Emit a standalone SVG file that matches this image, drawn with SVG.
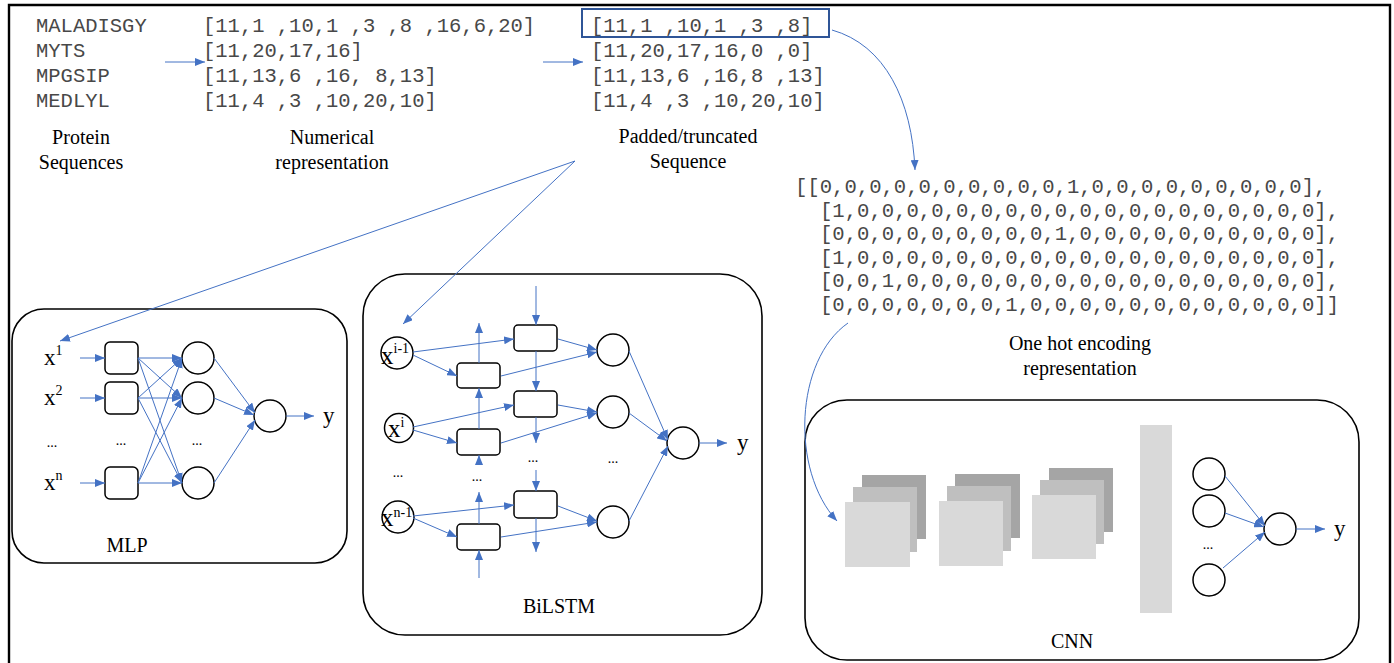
<svg xmlns="http://www.w3.org/2000/svg" width="1394" height="663" viewBox="0 0 1394 663">
  <defs>
    <marker id="ah" markerUnits="userSpaceOnUse" markerWidth="10" markerHeight="8" refX="10" refY="4" orient="auto">
      <path d="M0,0 L10,4 L0,8 z" fill="#4472C4"/>
    </marker>
    <style>
      .mono { font-family: "Liberation Mono", "Courier New", monospace; font-size: 20.5px; fill: #484848; }
      .hot { font-family: "Liberation Mono", "Courier New", monospace; font-size: 20.6px; fill: #484848; }
      .lbl { font-family: "Liberation Serif", "Times New Roman", serif; font-size: 20px; fill: #000; text-anchor: middle; }
      .var { font-family: "Liberation Serif", "Times New Roman", serif; font-size: 23px; fill: #000; }
      .big { font-size: 25px; }
      .sup { font-size: 14px; }
      .dots { font-family: "Liberation Serif", "Times New Roman", serif; font-size: 14px; fill: #000; text-anchor: middle; }
      .panel { fill: #fff; stroke: #000; stroke-width: 1.6; }
      .cell { fill: #fff; stroke: #000; stroke-width: 1.5; }
      .neuron { fill: #fff; stroke: #000; stroke-width: 1.5; }
      .link { fill: none; stroke: #4472C4; stroke-width: 1; marker-end: url(#ah); }
    </style>
  </defs>

  <rect width="1394" height="663" fill="#fff"/>

  <!-- outer frame, open at the bottom -->
  <path d="M9,663 L9,5 L1390,5 L1390,663" fill="none" stroke="#000" stroke-width="2.4"/>

  <!-- raw protein sequences -->
  <g id="protein-sequences">
    <text class="mono" x="36" y="32">MALADISGY</text>
    <text class="mono" x="36" y="57">MYTS</text>
    <text class="mono" x="36" y="82">MPGSIP</text>
    <text class="mono" x="36" y="107">MEDLYL</text>
    <text class="lbl" x="81" y="144">Protein</text>
    <text class="lbl" x="81" y="169">Sequences</text>
  </g>

  <!-- integer encoded sequences -->
  <g id="numerical-representation">
    <text class="mono" x="203" y="32">[11,1 ,10,1 ,3 ,8 ,16,6,20]</text>
    <text class="mono" x="203" y="57">[11,20,17,16]</text>
    <text class="mono" x="203" y="82">[11,13,6 ,16, 8,13]</text>
    <text class="mono" x="203" y="107">[11,4 ,3 ,10,20,10]</text>
    <text class="lbl" x="332" y="144">Numerical</text>
    <text class="lbl" x="332" y="169">representation</text>
  </g>

  <!-- fixed length sequences -->
  <g id="padded-sequence">
    <rect x="582" y="9" width="247" height="28" fill="none" stroke="#2F5597" stroke-width="2"/>
    <text class="mono" x="591" y="32">[11,1 ,10,1 ,3 ,8]</text>
    <text class="mono" x="591" y="57">[11,20,17,16,0 ,0]</text>
    <text class="mono" x="591" y="82">[11,13,6 ,16,8 ,13]</text>
    <text class="mono" x="591" y="107">[11,4 ,3 ,10,20,10]</text>
    <text class="lbl" x="688" y="143">Padded/truncated</text>
    <text class="lbl" x="688" y="168">Sequence</text>
  </g>

  <!-- one hot matrix of the first sequence -->
  <g id="one-hot-encoding">
    <text class="hot" x="795" y="193">[[0,0,0,0,0,0,0,0,0,0,1,0,0,0,0,0,0,0,0,0],</text>
    <text class="hot" x="820" y="216.6">[1,0,0,0,0,0,0,0,0,0,0,0,0,0,0,0,0,0,0,0],</text>
    <text class="hot" x="820" y="240.2">[0,0,0,0,0,0,0,0,0,1,0,0,0,0,0,0,0,0,0,0],</text>
    <text class="hot" x="820" y="263.8">[1,0,0,0,0,0,0,0,0,0,0,0,0,0,0,0,0,0,0,0],</text>
    <text class="hot" x="820" y="287.4">[0,0,1,0,0,0,0,0,0,0,0,0,0,0,0,0,0,0,0,0],</text>
    <text class="hot" x="820" y="311">[0,0,0,0,0,0,0,1,0,0,0,0,0,0,0,0,0,0,0,0]]</text>
    <text class="lbl" x="1080" y="350">One hot encoding</text>
    <text class="lbl" x="1080" y="375">representation</text>
  </g>

  <!-- MLP panel -->
  <g id="mlp">
    <rect class="panel" x="12" y="309" width="335" height="254" rx="32"/>
    <text class="var" x="44" y="365">x<tspan class="sup" dy="-10">1</tspan></text>
    <text class="var" x="44" y="405">x<tspan class="sup" dy="-10">2</tspan></text>
    <text class="dots" x="52" y="447">...</text>
    <text class="var" x="44" y="490">x<tspan class="sup" dy="-10">n</tspan></text>
    <rect class="cell" x="105" y="342" width="33" height="32" rx="5"/>
    <rect class="cell" x="105" y="382" width="33" height="32" rx="5"/>
    <text class="dots" x="121" y="445">...</text>
    <rect class="cell" x="105" y="467" width="33" height="32" rx="5"/>
    <circle class="neuron" cx="198" cy="358" r="16"/>
    <circle class="neuron" cx="198" cy="398" r="16"/>
    <text class="dots" x="197" y="445">...</text>
    <circle class="neuron" cx="198" cy="483" r="16"/>
    <circle class="neuron" cx="270" cy="416" r="16"/>
    <text class="var" x="323" y="423">y</text>
    <text class="lbl" x="127" y="552">MLP</text>
  </g>

  <!-- BiLSTM panel -->
  <g id="bilstm">
    <rect class="panel" x="363" y="274" width="399" height="361" rx="42"/>
    <circle class="neuron" cx="397" cy="353" r="16"/>
    <text class="var big" x="381" y="364">x<tspan class="sup" dy="-11">i-1</tspan></text>
    <circle class="neuron" cx="399" cy="428" r="14.5"/>
    <text class="var big" x="388" y="437">x<tspan class="sup" dy="-10">i</tspan></text>
    <text class="dots" x="398" y="477">...</text>
    <circle class="neuron" cx="398" cy="517" r="16"/>
    <text class="var big" x="381" y="526">x<tspan class="sup" dy="-9">n-1</tspan></text>

    <rect class="cell" x="457" y="363" width="43" height="25" rx="4"/>
    <rect class="cell" x="457" y="429" width="43" height="26" rx="4"/>
    <text class="dots" x="477" y="481">...</text>
    <rect class="cell" x="457" y="524" width="43" height="26" rx="4"/>

    <rect class="cell" x="514" y="325" width="43" height="26" rx="4"/>
    <rect class="cell" x="514" y="391" width="43" height="26" rx="4"/>
    <text class="dots" x="533" y="462">...</text>
    <rect class="cell" x="514" y="491" width="43" height="27" rx="4"/>

    <circle class="neuron" cx="613" cy="350" r="16"/>
    <circle class="neuron" cx="613" cy="412" r="16"/>
    <text class="dots" x="613" y="463">...</text>
    <circle class="neuron" cx="613" cy="522" r="16"/>

    <circle class="neuron" cx="683" cy="443" r="16"/>
    <text class="var" x="737" y="450">y</text>
    <text class="lbl" x="559" y="613">BiLSTM</text>
  </g>

  <!-- CNN panel -->
  <g id="cnn">
    <rect class="panel" x="805" y="400" width="554" height="260" rx="42"/>
    <rect x="862" y="475" width="64" height="64" fill="#A5A5A5"/>
    <rect x="853" y="487" width="64" height="65" fill="#BFBFBF"/>
    <rect x="845" y="502" width="65" height="65" fill="#D9D9D9"/>
    <rect x="955" y="474" width="65" height="64" fill="#A5A5A5"/>
    <rect x="947" y="486" width="64" height="65" fill="#BFBFBF"/>
    <rect x="939" y="501" width="64" height="65" fill="#D9D9D9"/>
    <rect x="1049" y="468" width="64" height="64" fill="#A5A5A5"/>
    <rect x="1040" y="480" width="64" height="64" fill="#BFBFBF"/>
    <rect x="1032" y="495" width="64" height="64" fill="#D9D9D9"/>
    <rect x="1140" y="425" width="32" height="188" fill="#D9D9D9"/>
    <circle class="neuron" cx="1209" cy="474" r="16"/>
    <circle class="neuron" cx="1209" cy="511" r="16"/>
    <text class="dots" x="1208" y="549">...</text>
    <circle class="neuron" cx="1209" cy="580" r="16"/>
    <circle class="neuron" cx="1280" cy="529" r="16"/>
    <text class="var" x="1334" y="536">y</text>
    <text class="lbl" x="1072" y="648">CNN</text>
  </g>

  <!-- connectors -->
  <g id="connectors">
    <!-- data pipeline -->
    <line class="link" x1="165" y1="62" x2="205" y2="62"/>
    <line class="link" x1="543" y1="62" x2="583" y2="62"/>
    <path class="link" d="M832,30 C885,45 912,100 915,170"/>
    <path class="link" d="M848,323 C795,360 790,470 837,521"/>
    <line class="link" x1="575" y1="161" x2="60" y2="341"/>
    <line class="link" x1="575" y1="161" x2="403" y2="324"/>

    <!-- MLP inputs -->
    <line class="link" x1="80" y1="358" x2="105" y2="358"/>
    <line class="link" x1="80" y1="398" x2="105" y2="398"/>
    <line class="link" x1="80" y1="483" x2="105" y2="483"/>
    <!-- MLP fully connected layer -->
    <line class="link" x1="138" y1="358" x2="182" y2="358"/>
    <line class="link" x1="138" y1="358" x2="182" y2="398"/>
    <line class="link" x1="138" y1="358" x2="182" y2="483"/>
    <line class="link" x1="138" y1="398" x2="182" y2="358"/>
    <line class="link" x1="138" y1="398" x2="182" y2="398"/>
    <line class="link" x1="138" y1="398" x2="182" y2="483"/>
    <line class="link" x1="138" y1="483" x2="182" y2="358"/>
    <line class="link" x1="138" y1="483" x2="182" y2="398"/>
    <line class="link" x1="138" y1="483" x2="182" y2="483"/>
    <!-- MLP output -->
    <line class="link" x1="214" y1="358" x2="255" y2="413"/>
    <line class="link" x1="214" y1="398" x2="254" y2="415"/>
    <line class="link" x1="214" y1="483" x2="255" y2="420"/>
    <line class="link" x1="286" y1="416" x2="314" y2="416"/>

    <!-- BiLSTM forward chain -->
    <line class="link" x1="536" y1="286" x2="536" y2="325"/>
    <line class="link" x1="536" y1="351" x2="536" y2="391"/>
    <line class="link" x1="536" y1="417" x2="536" y2="443"/>
    <line class="link" x1="536" y1="470" x2="536" y2="491"/>
    <line class="link" x1="536" y1="518" x2="536" y2="552"/>
    <!-- BiLSTM backward chain -->
    <line class="link" x1="479" y1="578" x2="479" y2="550"/>
    <line class="link" x1="479" y1="524" x2="479" y2="492"/>
    <line class="link" x1="479" y1="465" x2="479" y2="455"/>
    <line class="link" x1="479" y1="429" x2="479" y2="388"/>
    <line class="link" x1="479" y1="363" x2="479" y2="323"/>
    <!-- BiLSTM inputs to cells -->
    <line class="link" x1="413" y1="352" x2="514" y2="339"/>
    <line class="link" x1="413" y1="355" x2="457" y2="376"/>
    <line class="link" x1="413" y1="427" x2="514" y2="405"/>
    <line class="link" x1="413" y1="430" x2="457" y2="443"/>
    <line class="link" x1="413" y1="516" x2="514" y2="505"/>
    <line class="link" x1="413" y1="518" x2="457" y2="537"/>
    <!-- BiLSTM cells to merge nodes -->
    <line class="link" x1="558" y1="339" x2="597" y2="350"/>
    <line class="link" x1="501" y1="376" x2="597" y2="352"/>
    <line class="link" x1="558" y1="405" x2="597" y2="412"/>
    <line class="link" x1="501" y1="443" x2="597" y2="413"/>
    <line class="link" x1="558" y1="506" x2="597" y2="521"/>
    <line class="link" x1="501" y1="537" x2="597" y2="522"/>
    <!-- BiLSTM output -->
    <line class="link" x1="629" y1="351" x2="668" y2="440"/>
    <line class="link" x1="629" y1="413" x2="667" y2="441"/>
    <line class="link" x1="629" y1="521" x2="668" y2="446"/>
    <line class="link" x1="699" y1="443" x2="727" y2="443"/>

    <!-- CNN dense head -->
    <line class="link" x1="1225" y1="476" x2="1265" y2="526"/>
    <line class="link" x1="1225" y1="513" x2="1264" y2="527"/>
    <line class="link" x1="1223" y1="568" x2="1265" y2="532"/>
    <line class="link" x1="1296" y1="529" x2="1325" y2="529"/>
  </g>
</svg>
